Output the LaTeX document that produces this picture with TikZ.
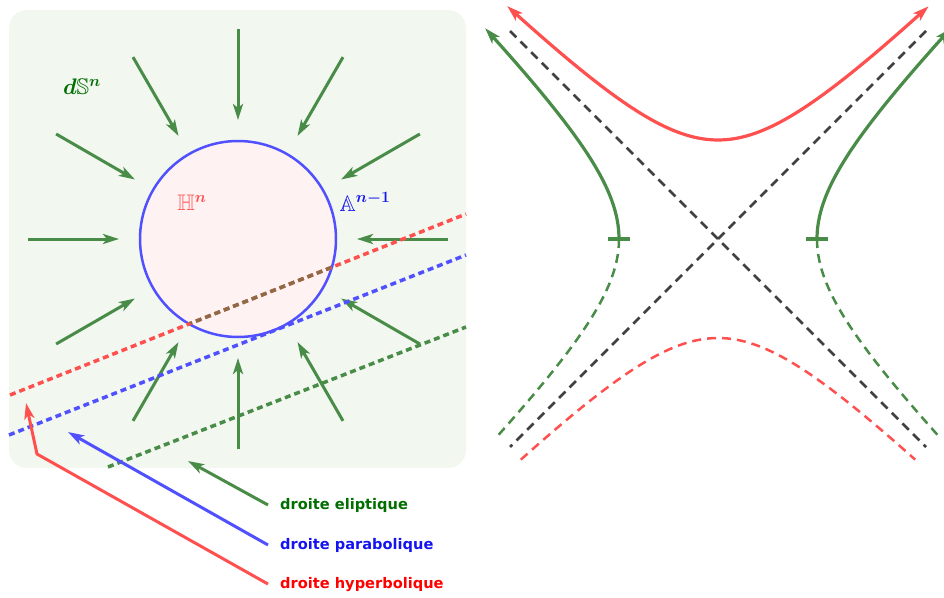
\documentclass[tikz,border=0pt]{standalone}
\usepackage{fix-cm}
\usepackage{amsmath,amssymb}
\usepackage{fontspec}
\newfontfamily\lblfont{DejaVu Sans}
\usetikzlibrary{arrows.meta,calc}
\definecolor{bggreen}{RGB}{242,247,240}
\definecolor{pinkfill}{RGB}{255,242,242}
\definecolor{agreen}{RGB}{72,140,72}
\definecolor{ared}{RGB}{255,80,80}
\definecolor{ablue}{RGB}{80,80,255}
\definecolor{abrown}{RGB}{140,108,70}
\definecolor{agrey}{RGB}{64,64,64}
\definecolor{tgreen}{RGB}{0,110,0}
\definecolor{tblue}{RGB}{20,20,240}
\definecolor{tred}{RGB}{255,0,0}
\tikzset{
  arrowtipped/.style={-{Stealth[length=16pt,width=10pt,inset=4pt]}},
  garrow/.style={arrowtipped, draw=agreen, line width=3pt},
  ldash/.style={line width=3.5pt, dash pattern=on 6pt off 4pt},
  rdash/.style={line width=2.5pt, dash pattern=on 9pt off 6pt},
  rsolid/.style={line width=3.2pt},
  lbl/.style={font=\lblfont\bfseries\fontsize{14.6}{17}\selectfont, inner sep=0pt, anchor=base west},
  mlbl/.style={font=\fontsize{22.5}{27}\selectfont\boldmath, inner sep=0pt}
}
\begin{document}
\begin{tikzpicture}[x=1pt,y=-1pt]
\useasboundingbox (0,0) rectangle (944,597);
% ---------- left panel ----------
\fill[bggreen, rounded corners=18pt] (9,10) rectangle (466,468);
\coordinate (c) at (238,239);
\node[circle, draw=ablue, fill=pinkfill, line width=2.5pt, minimum size=196pt, inner sep=0pt] (disk) at (c) {};
\foreach \a in {0,30,...,330}
  \draw[garrow] ($(c)+(\a:210)$) -- ($(c)+(\a:119)$);
\node[mlbl, text=tgreen] (dS) at (82,87) {$d\mathbb{S}^{n}$};
\node[mlbl, text=ared] (Hn) at (192,203) {$\mathbb{H}^{n}$};
\node[mlbl, text=tblue] (An) at (365,202) {$\mathbb{A}^{n-1}$};
% dashed lines
\coordinate (r1) at (10,395); \coordinate (r2) at (466,214);
\coordinate (b1) at (9,435);  \coordinate (b2) at (466,255);
\coordinate (g1) at (108,467); \coordinate (g2) at (466,327);
\draw[ldash, draw=ared] (r1) -- (r2);
\begin{scope}
  \clip (c) circle[radius=97];
  \draw[ldash, draw=abrown] (r1) -- (r2);
\end{scope}
\draw[ldash, draw=ablue] (b1) -- (b2);
\draw[ldash, draw=agreen] (g1) -- (g2);
% legend
\node[lbl, text=tgreen] (le) at (280,509) {droite eliptique};
\node[lbl, text=tblue] (lp) at (280,549) {droite parabolique};
\node[lbl, text=tred] (lh) at (280,588) {droite hyperbolique};
\coordinate (pe) at (188,461);
\coordinate (pp) at (68,432);
\coordinate (ph) at (26,403);
\coordinate (bend) at (37,454);
\draw[arrowtipped, draw=agreen, line width=3pt] ([xshift=-12pt]le.west) -- (pe);
\draw[arrowtipped, draw=ablue, line width=3pt] ([xshift=-12pt]lp.west) -- (pp);
\draw[arrowtipped, draw=ared, line width=3pt] ([xshift=-12pt]lh.west) -- (bend) -- (ph);
% ---------- right panel ----------
\begin{scope}[shift={(718,239)}]
  \coordinate (o) at (0,0);
  \draw[rdash, draw=agrey] (-208,-208) -- (208,208);
  \draw[rdash, draw=agrey] (208,-208) -- (-208,208);
  % red hyperbola
  \draw[rsolid, draw=ared, {Stealth[length=16pt,width=10pt,inset=4pt]}-{Stealth[length=16pt,width=10pt,inset=4pt]}]
    plot[domain=-1.5:1.5, samples=80, variable=\t] ({99*sinh(\t)},{-99*cosh(\t)});
  \draw[rdash, draw=ared] plot[domain=-1.44:1.44, samples=80, variable=\t] ({99*sinh(\t)},{99*cosh(\t)});
  % green hyperbola
  \draw[rsolid, draw=agreen, {Stealth[length=16pt,width=10pt,inset=4pt]}-]
    plot[domain=-1.5:0, samples=60, variable=\t] ({-99*cosh(\t)},{99*sinh(\t)});
  \draw[rsolid, draw=agreen, {Stealth[length=16pt,width=10pt,inset=4pt]}-]
    plot[domain=-1.5:0, samples=60, variable=\t] ({99*cosh(\t)},{99*sinh(\t)});
  \draw[rdash, draw=agreen] plot[domain=0:1.444, samples=60, variable=\t] ({-99*cosh(\t)},{99*sinh(\t)});
  \draw[rdash, draw=agreen] plot[domain=0:1.444, samples=60, variable=\t] ({99*cosh(\t)},{99*sinh(\t)});
  \draw[rsolid, draw=agreen] (-110,0) -- (-88,0);
  \draw[rsolid, draw=agreen] (88,0) -- (110,0);
\end{scope}
\end{tikzpicture}
\end{document}
